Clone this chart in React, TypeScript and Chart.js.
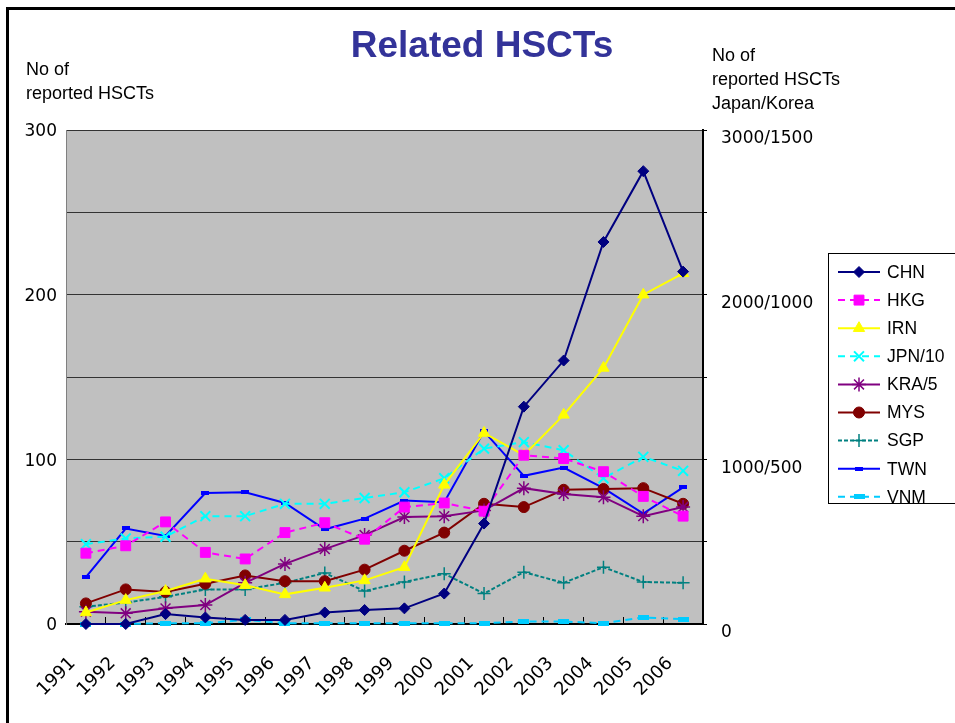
import React, { useEffect, useRef } from 'react';
import { Chart, registerables } from 'chart.js';
import { drawPoint } from 'chart.js/helpers';

Chart.register(...registerables);

const years = ['1991', '1992', '1993', '1994', '1995', '1996', '1997', '1998', '1999', '2000', '2001', '2002', '2003', '2004', '2005', '2006'];

const CHN = [0, 0, 6, 4, 2.5, 2.5, 7, 8.5, 9.5, 18.5, 61, 132, 160, 232, 275, 214];
const HKG = [43, 47.5, 62, 43.5, 39.5, 55.5, 61.5, 51.5, 71, 73.5, 68.5, 102.5, 100.5, 92.5, 77.5, 65.5];
const IRN = [7, 14.5, 20, 27.5, 23.5, 18, 22, 26.5, 34.5, 84.5, 116, 102.5, 127, 155.5, 200, 213];
const JPN10 = [48.5, 52, 53, 65.5, 65.5, 73, 73, 76.5, 80, 88.5, 106.5, 110.5, 105.5, 88.5, 101.5, 93];
const KRA5 = [7.5, 6.5, 9.5, 11.5, 25, 36.5, 45.5, 54, 65, 65.5, 69, 82.5, 79, 77, 65.5, 71];
const MYS = [12.5, 21, 19.5, 24.5, 29.5, 26, 26, 33, 44.5, 55.5, 73, 71, 81.5, 82, 82.5, 73];
const SGP = [10.5, 13, 16.5, 21, 21, 25, 31, 20, 25.5, 30.5, 18.5, 31.5, 25, 34.5, 25.5, 25];
const TWN = [28.5, 58, 53.5, 79.5, 80, 73.5, 57.5, 64, 75, 74, 117, 90, 95, 82.5, 67, 83];
const VNM = [0, 0, 0.5, 0.5, 2.5, 0.5, 0.5, 0.5, 0.5, 0.5, 0.5, 1.5, 1.5, 0.5, 4, 3];

const leftTickLabels = ['0', '100', '200', '300'];
const rightTickLabels = ['0', '1000/500', '2000/1000', '3000/1500'];

const FONT = '"Liberation Sans", Arial, sans-serif';
const TICKFONT = '"DejaVu Sans", "Liberation Sans", sans-serif';

function makeBar(w: number, h: number, color: string) {
  const c = document.createElement('canvas');
  c.width = w;
  c.height = h;
  const ctx = c.getContext('2d')!;
  ctx.fillStyle = color;
  ctx.fillRect(0, 0, w, h);
  return c;
}

const bgPlugin = {
  id: 'plotBg',
  beforeDraw(chart: any) {
    const { ctx, chartArea } = chart;
    ctx.save();
    ctx.fillStyle = '#C0C0C0';
    ctx.fillRect(chartArea.left, chartArea.top, chartArea.right - chartArea.left, chartArea.bottom - chartArea.top);
    ctx.restore();
  },
};

const legendPlugin = {
  id: 'boxLegend',
  afterDraw(chart: any) {
    const { ctx } = chart;
    const bx = 828, by = 253, bw = 140, bh = 250;
    ctx.save();
    ctx.fillStyle = '#FFFFFF';
    ctx.fillRect(bx, by, bw, bh);
    ctx.strokeStyle = '#000';
    ctx.lineWidth = 1;
    ctx.strokeRect(bx + 0.5, by + 0.5, bw, bh);
    ctx.beginPath();
    ctx.rect(bx + 1, by + 1, bw, bh - 1);
    ctx.clip();
    chart.data.datasets.forEach((ds: any, i: number) => {
      const y = 272 + i * 28.1;
      ctx.save();
      ctx.strokeStyle = ds.borderColor;
      ctx.lineWidth = ds.borderWidth;
      ctx.setLineDash(ds.borderDash || []);
      ctx.beginPath();
      ctx.moveTo(838, y);
      ctx.lineTo(880, y);
      ctx.stroke();
      ctx.setLineDash([]);
      ctx.fillStyle = ds.pointBackgroundColor;
      ctx.strokeStyle = ds.pointBorderColor;
      ctx.lineWidth = ds.pointBorderWidth;
      drawPoint(ctx, { pointStyle: ds.pointStyle, radius: ds.pointRadius, rotation: 0, borderWidth: ds.pointBorderWidth }, 859, y);
      ctx.restore();
      ctx.fillStyle = '#000';
      ctx.font = `17.5px ${FONT}`;
      ctx.textBaseline = 'middle';
      ctx.textAlign = 'left';
      ctx.fillText(ds.label, 887, y + 1);
    });
    ctx.restore();
  },
};

export default function App() {
  const ref = useRef<HTMLCanvasElement | null>(null);

  useEffect(() => {
    const twnMarker = makeBar(8, 4, '#0000FF');
    const vnmMarker = makeBar(11, 5, '#00CCFF');
    const mk = (label: string, data: number[], color: string, style: any, radius: number, dash: number[], bw = 1) => ({
      label,
      data,
      borderColor: color,
      backgroundColor: color,
      borderWidth: 2,
      borderDash: dash,
      pointStyle: style,
      pointRadius: radius,
      pointHoverRadius: radius,
      pointBackgroundColor: color,
      pointBorderColor: color,
      pointBorderWidth: bw,
      tension: 0,
      fill: false,
      clip: false,
      yAxisID: 'y',
    });
    const datasets = [
      mk('CHN', CHN, '#000080', 'rectRot', 5.5, []),
      mk('HKG', HKG, '#FF00FF', 'rect', 7, [7, 5]),
      mk('IRN', IRN, '#FFFF00', 'triangle', 6.5, []),
      mk('JPN/10', JPN10, '#00FFFF', 'crossRot', 7, [7, 5], 2),
      mk('KRA/5', KRA5, '#800080', 'star', 7, [], 1.5),
      mk('MYS', MYS, '#800000', 'circle', 5.5, []),
      mk('SGP', SGP, '#008080', 'cross', 6.5, [4, 2], 1.5),
      mk('TWN', TWN, '#0000FF', twnMarker, 4, []),
      mk('VNM', VNM, '#00CCFF', vnmMarker, 5, [7, 5]),
    ];
    const tickFont = { family: TICKFONT, size: 17 };
    const chart = new Chart(ref.current!, {
      type: 'line',
      data: { labels: years, datasets },
      options: {
        animation: false,
        responsive: false,
        maintainAspectRatio: false,
        layout: { padding: { top: 130, left: 0, right: 0, bottom: 0 } },
        plugins: { legend: { display: false }, title: { display: false }, tooltip: { enabled: false } },
        scales: {
          x: {
            type: 'category',
            offset: true,
            grid: { offset: true, drawOnChartArea: false, tickLength: -7, color: '#000', tickWidth: 1 },
            border: { color: '#000', width: 2 },
            ticks: { font: { family: TICKFONT, size: 18 }, color: '#000', minRotation: 45, maxRotation: 45, autoSkip: false, padding: 36, labelOffset: -13 },
            afterFit: (s: any) => { s.height = 99; },
          },
          y: {
            position: 'left',
            min: 0,
            max: 300,
            ticks: {
              stepSize: 50,
              autoSkip: false,
              font: tickFont,
              color: '#000',
              padding: 9,
              labelOffset: 2,
              callback: (v: any) => (Number(v) % 100 === 0 ? leftTickLabels[Number(v) / 100] : ''),
            },
            grid: { color: '#333333', drawTicks: false, lineWidth: 1 },
            border: { color: '#808080', width: 1 },
            afterFit: (s: any) => { s.width = 66; },
          },
          y2: {
            position: 'right',
            min: 0,
            max: 300,
            ticks: {
              stepSize: 50,
              autoSkip: false,
              font: tickFont,
              color: '#000',
              padding: 14,
              labelOffset: 9,
              callback: (v: any) => (Number(v) % 100 === 0 ? rightTickLabels[Number(v) / 100] : ''),
            },
            grid: { drawOnChartArea: false, tickLength: 4, color: '#000' },
            border: { color: '#000', width: 2 },
            afterFit: (s: any) => { s.width = 252; },
          },
        },
      } as any,
      plugins: [bgPlugin, legendPlugin],
    });
    return () => chart.destroy();
  }, []);

  const txt: React.CSSProperties = { position: 'absolute', fontFamily: FONT, fontSize: 18, color: '#000', lineHeight: '24px', whiteSpace: 'nowrap' };

  return (
    <div style={{ position: 'fixed', left: 0, top: 0, width: 955, height: 723, overflow: 'hidden', background: '#fff' }}>
      <div style={{ position: 'absolute', left: 6, top: 7, width: 1100, height: 900, border: '3px solid #000' }} />
      <canvas ref={ref} width={955} height={723} style={{ position: 'absolute', left: 0, top: 0, width: 955, height: 723 }} />
      <div style={{ ...txt, left: 0, width: 964, top: 22, textAlign: 'center', fontSize: 37, lineHeight: '46px', fontWeight: 'bold', color: '#333399' }}>Related HSCTs</div>
      <div style={{ ...txt, left: 26, top: 57 }}>No of<br />reported HSCTs</div>
      <div style={{ ...txt, left: 712, top: 43 }}>No of<br />reported HSCTs<br />Japan/Korea</div>
    </div>
  );
}
